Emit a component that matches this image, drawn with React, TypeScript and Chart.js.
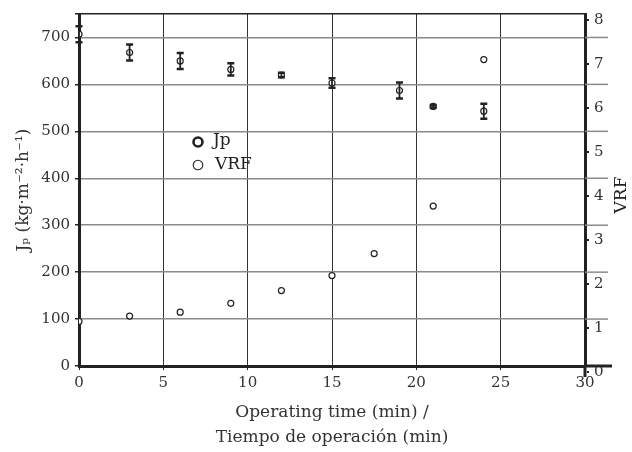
import React, { useEffect, useRef } from "react";
import { Chart, registerables } from "chart.js";

Chart.register(...registerables);

const timeJp = [0, 3, 6, 9, 12, 15, 19, 21, 24];
const jpValues = [707, 668, 650, 632, 620, 603, 587, 553, 543];
const jpErrors = [17, 17, 17, 13, 5, 10, 17, 3, 16];
const timeVrf = [0, 3, 6, 9, 12, 15, 17.5, 21, 24];
const vrfValues = [1.15, 1.27, 1.36, 1.56, 1.85, 2.19, 2.69, 3.77, 7.1];
const xTicks = [0, 5, 10, 15, 20, 25, 30];
const jpTicks = [0, 100, 200, 300, 400, 500, 600, 700];
const vrfTicks = [0, 1, 2, 3, 4, 5, 6, 7, 8];

const FONT = "'DejaVu Serif', 'Liberation Serif', serif";

const errorBarPlugin = {
  id: "errorBars",
  afterDatasetsDraw(chart: any) {
    const ctx = chart.ctx;
    const xs = chart.scales.x;
    const ys = chart.scales.y;
    ctx.save();
    ctx.strokeStyle = "#222";
    timeJp.forEach((t, i) => {
      const px = xs.getPixelForValue(t);
      const top = ys.getPixelForValue(jpValues[i] + jpErrors[i]);
      const bot = ys.getPixelForValue(jpValues[i] - jpErrors[i]);
      ctx.lineWidth = 1.8;
      ctx.beginPath();
      ctx.moveTo(px, top);
      ctx.lineTo(px, bot);
      ctx.stroke();
      ctx.lineWidth = 2.5;
      ctx.beginPath();
      ctx.moveTo(px - 3.5, top);
      ctx.lineTo(px + 3.5, top);
      ctx.moveTo(px - 3.5, bot);
      ctx.lineTo(px + 3.5, bot);
      ctx.stroke();
    });
    ctx.restore();
  },
};

const decorPlugin = {
  id: "decor",
  afterDraw(chart: any) {
    const ctx = chart.ctx;
    const ys = chart.scales.y;
    const y2 = chart.scales.y2;
    const area = chart.chartArea;
    ctx.save();
    // extend horizontal grid lines past the right axis
    ctx.strokeStyle = "#8a8a8a";
    ctx.lineWidth = 1.5;
    jpTicks.forEach((v) => {
      if (v === 0) return;
      const py = ys.getPixelForValue(v);
      ctx.beginPath();
      ctx.moveTo(area.right, py);
      ctx.lineTo(area.right + 23, py);
      ctx.stroke();
    });
    ctx.strokeStyle = "#222";
    ctx.lineWidth = 3;
    const p0 = ys.getPixelForValue(0);
    ctx.beginPath();
    ctx.moveTo(area.right, p0);
    ctx.lineTo(area.right + 27, p0);
    ctx.stroke();
    ctx.beginPath();
    ctx.moveTo(area.right, p0);
    ctx.lineTo(area.right, y2.getPixelForValue(0) + 5);
    ctx.stroke();

    // legend
    const ds = chart.data.datasets;
    ctx.fillStyle = "#222";
    ctx.strokeStyle = "#222";
    ctx.font = "17px " + FONT;
    ctx.textBaseline = "middle";
    ctx.textAlign = "left";
    ctx.lineWidth = 2.6;
    ctx.beginPath();
    ctx.arc(198, 142, 4.5, 0, Math.PI * 2);
    ctx.stroke();
    ctx.fillText(ds[0].label, 213, 141);
    ctx.lineWidth = 1.1;
    ctx.beginPath();
    ctx.arc(198, 165, 4.8, 0, Math.PI * 2);
    ctx.stroke();
    ctx.fillText(ds[1].label, 215, 165);

    // right axis title (reads bottom to top)
    ctx.save();
    ctx.translate(622, 195);
    ctx.rotate(-Math.PI / 2);
    ctx.textAlign = "center";
    ctx.fillText("VRF", 0, 0);
    ctx.restore();
    ctx.restore();
  },
};

export default function App() {
  const ref = useRef<HTMLCanvasElement | null>(null);
  useEffect(() => {
    document.body.style.margin = "0";
    const canvas = ref.current!;
    const chart = new Chart(canvas, {
      type: "scatter",
      data: {
        datasets: [
          {
            label: "Jp",
            data: timeJp.map((t, i) => ({ x: t, y: jpValues[i] })),
            yAxisID: "y",
            pointRadius: 3,
            pointBorderWidth: 1.2,
            pointBorderColor: "#222",
            pointBackgroundColor: "#fff",
            showLine: false,
          },
          {
            label: "VRF",
            data: timeVrf.map((t, i) => ({ x: t, y: vrfValues[i] })),
            yAxisID: "y2",
            pointRadius: 3,
            pointBorderWidth: 1.2,
            pointBorderColor: "#222",
            pointBackgroundColor: "#fff",
            showLine: false,
          },
        ],
      },
      options: {
        animation: false,
        responsive: false,
        layout: { padding: { top: 12, left: 0, right: 0, bottom: 0 } },
        plugins: { legend: { display: false }, tooltip: { enabled: false } },
        scales: {
          x: {
            type: "linear",
            min: 0,
            max: 30,
            afterBuildTicks: (s: any) => {
              s.ticks = xTicks.map((v) => ({ value: v }));
            },
            afterFit: (s: any) => {
              s.height = 86;
            },
            ticks: {
              font: { family: FONT, size: 15 },
              color: "#333",
              padding: 4,
              maxRotation: 0,
            },
            grid: {
              color: (c: any) =>
                c.tick && (c.tick.value === 0 || c.tick.value === 30) ? "rgba(0,0,0,0)" : "#333",
              lineWidth: 1,
              tickLength: 4,
              tickColor: "#222",
            },
            border: { color: "#222", width: 3 },
            title: {
              display: true,
              text: ["Operating time (min) /", "Tiempo de operación (min)"],
              font: { family: FONT, size: 17, lineHeight: "25px" },
              color: "#333",
              padding: { top: 0, bottom: 2 },
            },
          },
          y: {
            type: "linear",
            position: "left",
            min: 0,
            max: 750,
            afterBuildTicks: (s: any) => {
              s.ticks = [...jpTicks, 750].map((v) => ({ value: v }));
            },
            afterFit: (s: any) => {
              s.width = 79;
            },
            ticks: {
              font: { family: FONT, size: 15 },
              color: "#333",
              padding: 5,
              callback: (v: any) => (v === 750 ? "" : String(v)),
            },
            grid: {
              color: (c: any) => (c.tick && c.tick.value === 750 ? "#222" : "#8a8a8a"),
              lineWidth: 1.5,
              tickLength: 4,
              tickColor: "#222",
            },
            border: { color: "#222", width: 3 },
            title: {
              display: true,
              text: "Jₚ (kg·m⁻²·h⁻¹)",
              font: { family: FONT, size: 17, lineHeight: 1.2 },
              color: "#333",
              padding: { top: 13, bottom: 0 },
            },
          },
          y2: {
            type: "linear",
            position: "right",
            min: 0.136,
            max: 8.136,
            afterBuildTicks: (s: any) => {
              s.ticks = vrfTicks.map((v) => ({ value: v }));
            },
            afterFit: (s: any) => {
              s.width = 47;
            },
            ticks: {
              font: { family: FONT, size: 15 },
              color: "#333",
              padding: 5,
            },
            grid: {
              drawOnChartArea: false,
              color: "#222",
              lineWidth: 2,
              tickLength: 4,
            },
            border: { color: "#222", width: 3 },
          },
        },
      },
      plugins: [errorBarPlugin, decorPlugin],
    });
    return () => chart.destroy();
  }, []);
  return <canvas ref={ref} width={632} height={452} style={{ display: "block" }} />;
}
